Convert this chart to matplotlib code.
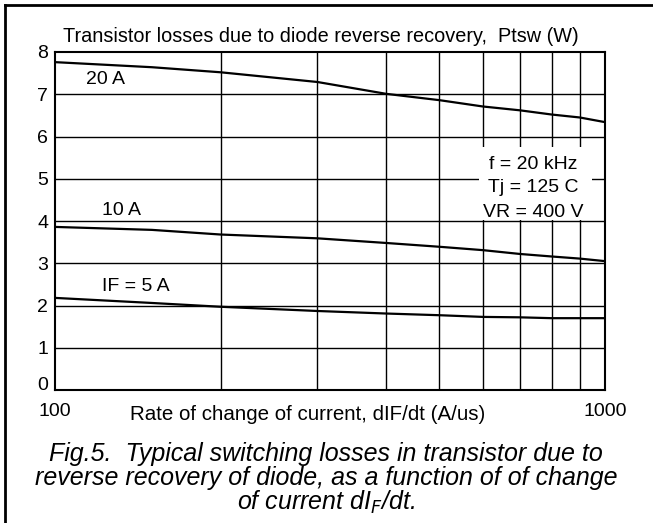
import numpy as np
import matplotlib.pyplot as plt
from matplotlib.patches import Rectangle
from matplotlib.lines import Line2D

plt.rcParams['font.family'] = ['Liberation Sans', 'DejaVu Sans']

# Werte
didt = [100, 150, 200, 300, 400, 500, 600, 700, 800, 900, 1000]
p_20a = [7.76, 7.64, 7.52, 7.29, 7.01, 6.86, 6.71, 6.62, 6.52, 6.45, 6.34]
p_10a = [3.86, 3.79, 3.68, 3.59, 3.48, 3.39, 3.31, 3.22, 3.16, 3.11, 3.05]
p_5a = [2.18, 2.06, 1.97, 1.87, 1.81, 1.77, 1.73, 1.72, 1.70, 1.70, 1.70]
yticks = [0, 1, 2, 3, 4, 5, 6, 7, 8]
conditions = ['f = 20 kHz', 'Tj = 125 C', 'VR = 400 V']

W, H = 653, 523
fig = plt.figure(figsize=(W / 100, H / 100), dpi=100)
ax = fig.add_axes([55 / W, 1 - 390 / H, 550 / W, 338 / H])

ax.set_xscale('log')
ax.set_xlim(100, 1000)
ax.set_ylim(0, 8)

# Gitter
for v in range(200, 1000, 100):
    ax.axvline(v, color='black', lw=1, zorder=1)
for v in yticks[1:-1]:
    ax.axhline(v, color='black', lw=1, zorder=1)

# weisse Flaeche hinter den Bedingungen
ax.add_patch(Rectangle((590, 4.03), 946 - 590, 1.72, facecolor='white',
                       edgecolor='none', zorder=2))

for p in (p_20a, p_10a, p_5a):
    ax.plot(didt, p, color='black', lw=1.6, zorder=3)

fs = 14
ax.text(114, 7.34, '20 A', fontsize=fs, va='center', zorder=4)
ax.text(122, 4.26, '10 A', fontsize=fs, va='center', zorder=4)
ax.text(122, 2.45, 'IF = 5 A', fontsize=fs, va='center', zorder=4)
for txt, yv in zip(conditions, [5.34, 4.80, 4.21]):
    ax.text(741, yv, txt, fontsize=fs, ha='center', va='center', zorder=4)

ax.set_yticks(yticks)
ax.set_yticklabels([str(v) for v in yticks], fontsize=fs)
ax.get_yticklabels()[0].set_va('baseline')
ax.set_xticks([100, 1000])
ax.set_xticklabels(['100', '1000'], fontsize=fs)
ax.xaxis.set_minor_locator(plt.NullLocator())
ax.tick_params(length=0, pad=5)
ax.tick_params(axis='x', pad=9)
for s in ax.spines.values():
    s.set_linewidth(1.5)

fig.text(63 / W, 1 - 37 / H, 'Transistor losses due to diode reverse recovery,  Ptsw (W)',
         fontsize=14.3, va='center')
fig.text(308 / W, 1 - 414 / H, 'Rate of change of current, dIF/dt (A/us)',
         fontsize=14.8, ha='center', va='center')
cap = dict(fontsize=18, style='italic', ha='center', va='center')
fig.text(326 / W, 1 - 454 / H, 'Fig.5.  Typical switching losses in transistor due to', **cap)
fig.text(326 / W, 1 - 478 / H, 'reverse recovery of diode, as a function of of change', **cap)
fig.text(326 / W, 1 - 502 / H, r'of current dI$_F$/dt.', **cap)

# Rahmen links und oben
fig.add_artist(Line2D([4.5 / W, 4.5 / W], [0, 1 - 5 / H], color='black', lw=2))
fig.add_artist(Line2D([4.5 / W, 1], [1 - 5 / H, 1 - 5 / H], color='black', lw=2))

fig.savefig('out.png', dpi=100)
